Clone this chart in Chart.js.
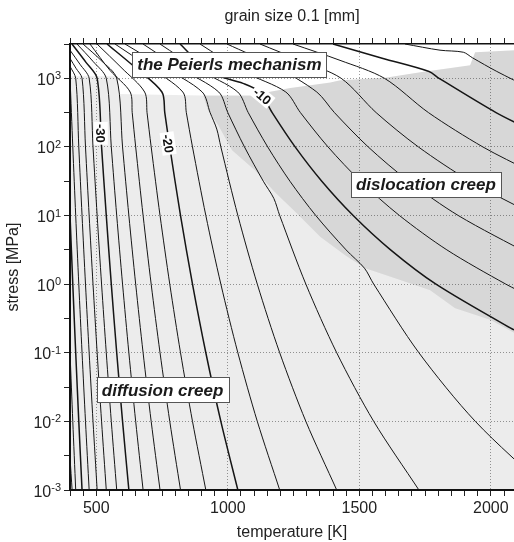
<!DOCTYPE html>
<html><head><meta charset="utf-8">
<script src="https://cdn.jsdelivr.net/npm/chart.js@4/dist/chart.umd.min.js"></script>
<style>html,body{margin:0;padding:0;background:#fff;overflow:hidden}</style>
</head><body>
<canvas id="c" width="514" height="542"></canvas>
<script>
// ---------------- values ----------------
// x: temperature [K], y: stress [MPa]
const tempTicks = [400,450,500,550,600,650,700,750,800,850,900,950,1000,1050,1100,1150,1200,1250,1300,1350,1400,1450,1500,1550,1600,1650,1700,1750,1800,1850,1900,1950,2000,2050];
const tempLabels = [500, 1000, 1500, 2000];
const stressTicks = [0.001, 0.00316, 0.01, 0.0316, 0.1, 0.316, 1, 3.16, 10, 31.6, 100, 316, 1000, 3162];
const stressDecades = [0.001, 0.01, 0.1, 1, 10, 100, 1000];
const decadeExponents = ['-3', '-2', '-1', '0', '1', '2', '3'];

// strain-rate contours, log10 of strain rate [1/s]; points [T, stress]
const contourLevels = [-44, -42, -40, -38, -36, -34, -32, -30, -28, -26, -24, -22, -20, -18, -16, -14, -12, -10, -8, -6, -4, -2, 0, 2];
const c_m44 = [[400, 0.003], [408, 0.001]];
const c_m42 = [[400.1, 0.1], [410.6, 0.01], [421.7, 0.001]];
const c_m40 = [[400.1, 10], [410.6, 1], [421.7, 0.1], [433.4, 0.01], [445.8, 0.001]];
const c_m38 = [[400.1, 1000], [410.6, 100], [421.7, 10], [433.4, 1], [445.8, 0.1], [458.9, 0.01], [472.8, 0.001]];
const c_m36 = [[400, 1496], [421.7, 1000], [433.4, 100], [445.8, 10], [458.9, 1], [472.8, 0.1], [487.5, 0.01], [503.2, 0.001]];
const c_m34 = [[400, 1950], [422.8, 1400], [445.8, 1000], [458.9, 100], [472.8, 10], [487.5, 1], [503.2, 0.1], [520, 0.01], [537.9, 0.001]];
const c_m32 = [[400, 2570], [438, 1600], [472.8, 1000], [487.5, 100], [503.2, 10], [520, 1], [537.9, 0.1], [557, 0.01], [577.6, 0.001]];
const c_m30 = [[407.6, 3162], [460.8, 1710], [503.2, 1000], [520, 100], [537.9, 10], [557, 1], [577.6, 0.1], [599.8, 0.01], [623.8, 0.001]];
const c_m28 = [[426.6, 3162], [487.5, 1766], [537.9, 1000], [557, 100], [577.6, 10], [599.8, 1], [623.8, 0.1], [649.7, 0.01], [677.9, 0.001]];
const c_m26 = [[449.4, 3162], [517.9, 1828], [577.6, 1000], [599.8, 100], [623.8, 10], [649.7, 1], [677.9, 0.1], [708.6, 0.01], [742.3, 0.001]];
const c_m24 = [[476, 3162], [552, 1306], [628.8, 631], [636.5, 316], [649.7, 100], [677.9, 10], [708.6, 1], [742.3, 0.1], [779.3, 0.01], [820.2, 0.001]];
const c_m22 = [[502.7, 3162], [597.7, 1400], [683.8, 631], [692.9, 316], [708.6, 100], [742.3, 10], [779.3, 1], [820.2, 0.1], [865.7, 0.01], [916.4, 0.001]];
const c_m20 = [[540.7, 3162], [647.1, 1445], [749.4, 631], [760.3, 316], [779.3, 100], [820.2, 10], [865.7, 1], [916.4, 0.1], [973.5, 0.01], [1038.2, 0.001]];
const c_m18 = [[571.1, 3162], [696.6, 1496], [828.9, 631], [842.3, 316], [865.7, 100], [916.4, 10], [973.5, 1], [1038.2, 0.1], [1112.1, 0.01], [1197.3, 0.001]];
const c_m16 = [[609.1, 3162], [749.8, 1496], [902.7, 631], [932.7, 316], [958, 182], [973.5, 100], [1038.2, 10], [1112.1, 1], [1197.3, 0.1], [1296.7, 0.01], [1414, 0.001]];
const c_m14 = [[677.6, 3162], [818.2, 1400], [965.5, 631], [1000, 316], [1063.3, 100], [1135, 31.6], [1174.8, 17.8], [1197.3, 10], [1296.7, 1], [1414, 0.1], [1554.7, 0.01], [1726.5, 0.001]];
const c_m12 = [[742.2, 3162], [894.3, 1306], [1037.8, 631], [1077.7, 316], [1151.6, 100], [1236.3, 31.6], [1334.5, 10], [1449.6, 3.16], [1519.4, 1.71], [1554.7, 1], [1726.5, 0.1], [1941, 0.01], [2216, 0.001]];
const c_m10 = [[818.2, 3162], [932.3, 1222], [1057.8, 845], [1121.8, 631], [1168.6, 316], [1255.9, 100], [1357.3, 31.6], [1476.6, 10], [1618.8, 3.16], [1791.3, 1], [2088, 0.215], [2150, 0.166]];
const c_m8 = [[894.3, 3162], [1065.4, 1222], [1220.5, 631], [1276.1, 316], [1381, 100], [1504.6, 31.6], [1652.6, 10], [1832.8, 3.16], [2057, 1], [2150, 0.667]];
const c_m6 = [[996.9, 3162], [1179.4, 1496], [1338.3, 631], [1405.5, 316], [1533.7, 100], [1687.8, 31.6], [1876.2, 10], [2150, 2.69]];
const c_m4 = [[1122.4, 3162], [1274.5, 1828], [1430.9, 1000], [1564, 316], [1724.5, 100], [1921.7, 31.6], [2150, 10.9]];
const c_m2 = [[1247.8, 3162], [1426.5, 1828], [1595.5, 1000], [1762.9, 316], [1969.5, 100], [2150, 43.9]];
const c_0 = [[1400, 3162], [1590, 1950], [1765, 1259], [1803, 1000], [2019.7, 316], [2150, 177]];
const c_p2 = [[1673.7, 3162], [1806.7, 2570], [1895.4, 2399], [1929.7, 1995], [2022.6, 1259], [2150, 716]];
const contourData = [c_m44, c_m42, c_m40, c_m38, c_m36, c_m34, c_m32, c_m30, c_m28, c_m26, c_m24, c_m22, c_m20, c_m18, c_m16, c_m14, c_m12, c_m10, c_m8, c_m6, c_m4, c_m2, c_0, c_p2];

// deformation-mechanism field boundaries [T, stress]
const peierlsEdge = [[400, 1072], [583, 1072], [583, 589], [906, 562], [1084, 562], [1237, 724], [1389, 871], [1427, 933], [1598, 1023], [1731, 1230], [1921, 1549], [1940, 2399], [2088, 2570]];
const dislocationTop = [[906, 562], [1084, 562], [1237, 724], [1389, 871], [1427, 933], [1598, 1023], [1731, 1230], [1921, 1549], [1940, 2399], [2088, 2570]];
const dislocationBottom = [[906, 562], [925, 339], [963, 209], [1016, 89.1], [1103, 45.7], [1179, 21.9], [1263, 10.7], [1351, 4.90], [1446, 2.63], [1522, 1.70], [1655, 1.148], [1769, 0.813], [1864, 0.447], [1997, 0.302], [2088, 0.195]];

// text annotations (positions in data units)
const regionLabels = [
  {text: 'the Peierls mechanism', T: 1006, S: 1574},
  {text: 'dislocation creep', T: 1753, S: 28.1},
  {text: 'diffusion creep', T: 752, S: 0.0288}
];
const contourLabels = [
  {text: '-30', T: 517, S: 158, angle: 90},
  {text: '-20', T: 773, S: 112, angle: 82},
  {text: '-10', T: 1131, S: 550, angle: 40}
];
// ------------------------------------------------------------------------

const FONT = "'Liberation Sans', Arial, Helvetica, sans-serif";
Chart.defaults.font.family = FONT;
Chart.defaults.color = '#222';

const datasets = [];
datasets.push({data: peierlsEdge, fill: 'start', backgroundColor: 'rgba(0,0,0,0.075)', borderColor: 'rgba(0,0,0,0)', borderWidth: 0, pointRadius: 0, tension: 0, order: 10});
datasets.push({data: dislocationTop, fill: '+1', backgroundColor: 'rgba(0,0,0,0.09)', borderColor: 'rgba(0,0,0,0)', borderWidth: 0, pointRadius: 0, tension: 0, order: 9});
datasets.push({data: dislocationBottom, fill: false, borderColor: 'rgba(0,0,0,0)', borderWidth: 0, pointRadius: 0, tension: 0, order: 8});
contourLevels.forEach((lv, i) => {
  datasets.push({
    data: contourData[i], fill: false, borderColor: '#151515',
    borderWidth: (lv % 10 === 0) ? 1.5 : 1, pointRadius: 0, tension: 0.3, order: 0, clip: 0
  });
});

const setTempTicks = s => { s.ticks = tempTicks.map(v => ({value: v})); };

const annot = {
  id: 'annot',
  afterDatasetsDraw(chart) {
    const {ctx, scales: {x, y}} = chart;
    ctx.save();
    contourLabels.forEach(l => {
      const px = x.getPixelForValue(l.T), py = y.getPixelForValue(l.S);
      ctx.save();
      ctx.translate(px, py);
      ctx.rotate(l.angle * Math.PI / 180);
      ctx.font = 'bold 13px ' + FONT;
      const w = ctx.measureText(l.text).width;
      ctx.fillStyle = '#fff';
      ctx.fillRect(-w / 2 - 2, -7, w + 4, 14);
      ctx.fillStyle = '#111';
      ctx.textAlign = 'center';
      ctx.textBaseline = 'middle';
      ctx.fillText(l.text, 0, 1);
      ctx.restore();
    });
    regionLabels.forEach(b => {
      const px = x.getPixelForValue(b.T), py = y.getPixelForValue(b.S);
      ctx.font = 'italic bold 17px ' + FONT;
      const w = ctx.measureText(b.text).width;
      const bw = Math.round(w + 10), bh = 25;
      const bx = Math.round(px - bw / 2) + 0.5, by = Math.round(py - bh / 2) + 0.5;
      ctx.fillStyle = '#fff';
      ctx.fillRect(bx, by, bw, bh);
      ctx.strokeStyle = '#555';
      ctx.lineWidth = 1;
      ctx.strokeRect(bx, by, bw, bh);
      ctx.fillStyle = '#1a1a1a';
      ctx.textAlign = 'center';
      ctx.textBaseline = 'middle';
      ctx.fillText(b.text, px, py + 1);
    });
    ctx.restore();
  },
  afterDraw(chart) {
    const {ctx, scales: {y}} = chart;
    ctx.save();
    ctx.fillStyle = '#222';
    ctx.textAlign = 'left';
    ctx.textBaseline = 'alphabetic';
    stressDecades.forEach((v, i) => {
      const py = y.getPixelForValue(v);
      ctx.font = '16px ' + FONT;
      const wb = ctx.measureText('10').width;
      ctx.font = '11px ' + FONT;
      const we = ctx.measureText(decadeExponents[i]).width;
      const right = 61;
      ctx.font = '16px ' + FONT;
      ctx.fillText('10', right - we - wb, py + 6.5);
      ctx.font = '11px ' + FONT;
      ctx.fillText(decadeExponents[i], right - we, py + 1);
    });
    ctx.restore();
  }
};

new Chart(document.getElementById('c'), {
  type: 'line',
  data: {datasets},
  plugins: [annot],
  options: {
    responsive: false,
    devicePixelRatio: 1,
    animation: false,
    events: [],
    parsing: true,
    layout: {padding: 0},
    plugins: {legend: {display: false}, tooltip: {enabled: false}, title: {display: false}},
    elements: {point: {radius: 0}},
    scales: {
      x: {
        type: 'linear', position: 'bottom', min: 400, max: 2088,
        afterBuildTicks: setTempTicks,
        afterFit: s => { s.height = 52; },
        ticks: {autoSkip: false, maxRotation: 0, padding: 3, font: {size: 16}, color: '#222',
          callback: v => tempLabels.includes(v) ? String(v) : ''},
        grid: {color: c => (c.tick && tempLabels.includes(c.tick.value)) ? '#9c9c9c' : 'rgba(0,0,0,0)',
          lineWidth: 1, tickColor: '#222', tickLength: 6, tickWidth: 1},
        border: {display: true, color: '#111', width: 2, dash: [1, 2], z: 1},
        title: {display: true, text: 'temperature [K]', font: {size: 16}, color: '#222', padding: {top: 2, bottom: 0}}
      },
      x2: {
        type: 'linear', position: 'top', min: 400, max: 2088,
        afterBuildTicks: setTempTicks,
        afterFit: s => { s.height = 44; },
        ticks: {autoSkip: false, maxRotation: 0, padding: 0, callback: () => ''},
        grid: {drawOnChartArea: false, tickColor: '#222', tickLength: 6, tickWidth: 1},
        border: {display: true, color: '#111', width: 1.5, z: 1},
        title: {display: true, text: 'grain size 0.1 [mm]', font: {size: 16}, color: '#222', padding: {top: 7, bottom: 0}}
      },
      y: {
        type: 'logarithmic', position: 'left', min: 0.001, max: 3162.28,
        afterBuildTicks: s => { s.ticks = stressTicks.map(v => ({value: v})); },
        afterFit: s => { s.width = 70; },
        ticks: {autoSkip: false, callback: () => ''},
        grid: {color: c => (c.tick && stressDecades.includes(c.tick.value)) ? '#9c9c9c' : 'rgba(0,0,0,0)',
          lineWidth: 1, tickColor: '#222', tickLength: 6, tickWidth: 1},
        border: {display: true, color: '#111', width: 2, dash: [1, 2], z: 1},
        title: {display: true, text: 'stress [MPa]', font: {size: 16}, color: '#222'}
      }
    }
  }
});
</script>
</body></html>
